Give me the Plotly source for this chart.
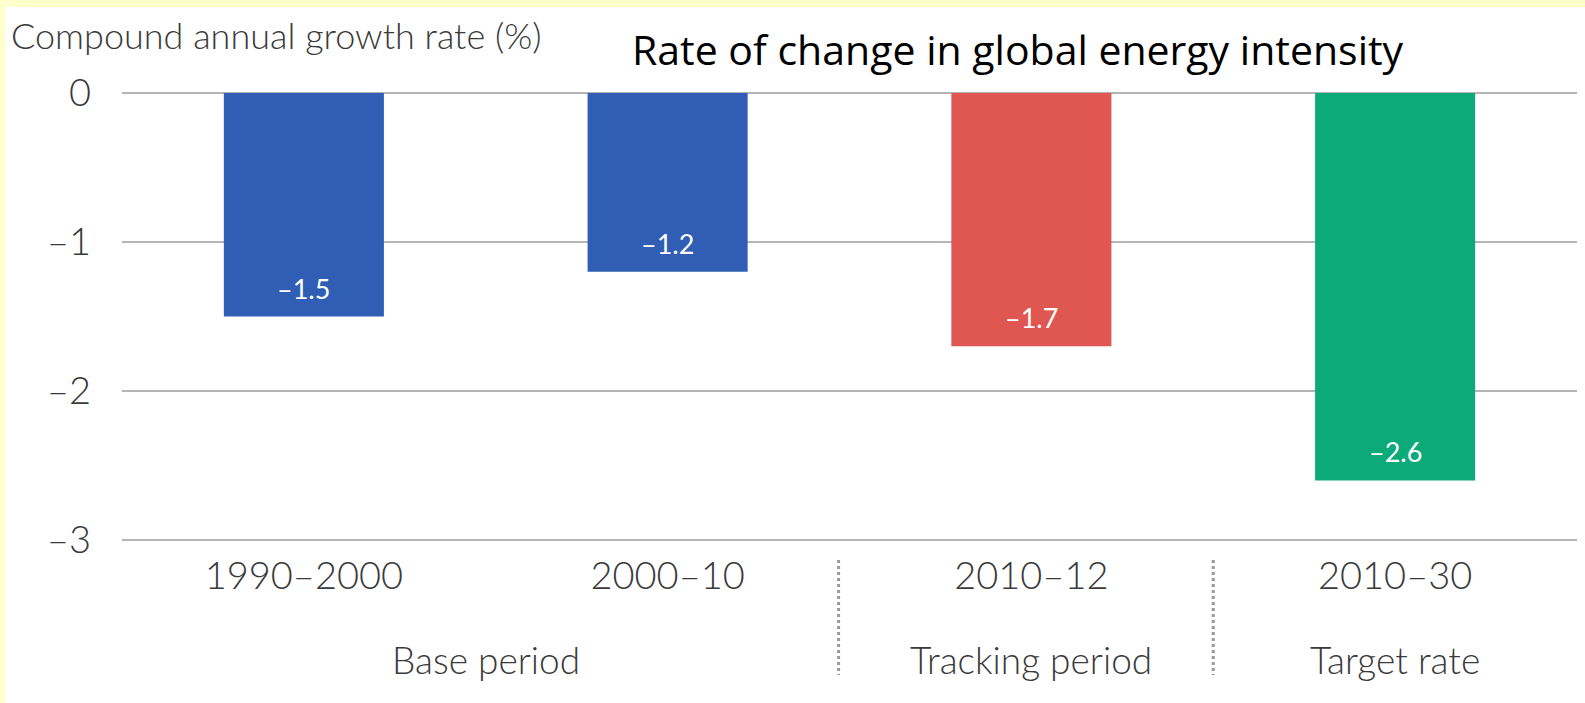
import plotly.graph_objects as go

periods = ["1990–2000", "2000–10", "2010–12", "2010–30"]
rates = [-1.5, -1.2, -1.7, -2.6]
bar_colors = ["#2F5EB4", "#2F5EB4", "#E05651", "#0DAA79"]
group_labels = ["Base period", "Tracking period", "Target rate"]
group_pos = [0.5, 2, 3]
separator_pos = [1.47, 2.5]
y_ticks = [0, -1, -2, -3]
y_tick_text = ["0", "–1", "–2", "–3"]

W, H = 1585, 703
# plot area: y=0 at 93px, y=-3 at 540px; pad range slightly so edge gridlines draw
PAD = 0.02
unit = (540 - 93) / 3.0
L, R = 122, 8
T = 93 - PAD * unit
B = H - (540 + PAD * unit)
pw, ph = W - L - R, H - T - B

def px_to_paper_x(px):
    return (px - L) / pw

def px_to_paper_y(py):
    return (H - B - py) / ph

FONT = "Lato"
GREY_TXT = "#3a3a3a"

fig = go.Figure()
fig.add_trace(go.Bar(
    x=periods, y=rates,
    marker=dict(color=bar_colors, line=dict(width=0)),
    width=0.44,
    cliponaxis=False,
    hoverinfo="skip",
))

shapes = []
# white page background with a yellow frame strip on top and left
shapes.append(dict(type="rect", xref="paper", yref="paper",
                   x0=px_to_paper_x(0), x1=px_to_paper_x(W),
                   y0=px_to_paper_y(7), y1=px_to_paper_y(0),
                   fillcolor="#FFFFCC", line=dict(width=0), layer="below"))
shapes.append(dict(type="rect", xref="paper", yref="paper",
                   x0=px_to_paper_x(0), x1=px_to_paper_x(5),
                   y0=px_to_paper_y(H), y1=px_to_paper_y(0),
                   fillcolor="#FFFFCC", line=dict(width=0), layer="below"))
shapes.append(dict(type="rect", xref="paper", yref="paper",
                   x0=px_to_paper_x(1578), x1=px_to_paper_x(W),
                   y0=px_to_paper_y(H), y1=px_to_paper_y(7),
                   fillcolor="white", line=dict(width=0), layer="below"))
for s in separator_pos:
    shapes.append(dict(type="line", xref="x", yref="paper",
                       x0=s, x1=s, y0=px_to_paper_y(560), y1=px_to_paper_y(675),
                       line=dict(color="#999999", width=3, dash="dot")))

annotations = []
for cat, v in zip(periods, rates):
    annotations.append(dict(x=cat, xref="x", y=v, yref="y", text=f"–{abs(v)}",
                            showarrow=False, xanchor="center", yanchor="bottom", yshift=10,
                            font=dict(family=FONT, size=27, color="white")))
for lbl, pos in zip(group_labels, group_pos):
    annotations.append(dict(x=pos, xref="x", y=px_to_paper_y(659), yref="paper",
                            text=lbl, showarrow=False, xanchor="center", yanchor="middle",
                            font=dict(family=FONT, size=37, color=GREY_TXT, weight=300)))
annotations.append(dict(x=px_to_paper_x(9), xref="paper", y=px_to_paper_y(35), yref="paper",
                        text="Compound annual growth rate (%)", showarrow=False,
                        xanchor="left", yanchor="middle",
                        font=dict(family=FONT, size=36, color=GREY_TXT, weight=300)))
annotations.append(dict(x=px_to_paper_x(1018), xref="paper", y=px_to_paper_y(49), yref="paper",
                        text="Rate of change in global energy intensity", showarrow=False,
                        xanchor="center", yanchor="middle",
                        font=dict(family="Open Sans", size=41, color="#000000")))

fig.update_layout(
    width=W, height=H,
    margin=dict(l=L, r=R, t=T, b=B, pad=0),
    paper_bgcolor="white", plot_bgcolor="white",
    showlegend=False,
    shapes=shapes,
    annotations=annotations,
    xaxis=dict(showgrid=False, showline=False, zeroline=False, ticks="",
               tickfont=dict(family=FONT, size=38, color=GREY_TXT, weight=300),
               ticklabelstandoff=7),
    yaxis=dict(range=[-3 - PAD, 0 + PAD], tickvals=y_ticks, ticktext=y_tick_text,
               showgrid=True, gridcolor="#B5B5B5", gridwidth=2,
               zeroline=False, showline=False, ticks="",
               tickfont=dict(family=FONT, size=38, color=GREY_TXT, weight=300),
               ticklabelstandoff=30),
)
fig.write_html("out.html", config={"displayModeBar": False},
               post_script="document.body.style.margin='0';document.body.style.overflow='hidden';")
